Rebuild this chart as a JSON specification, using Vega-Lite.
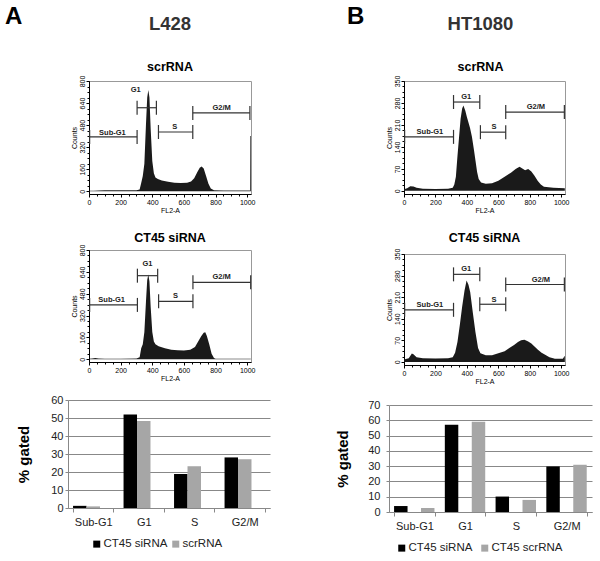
{
  "$schema": "https://vega.github.io/schema/vega-lite/v6.json",
  "padding": {"left": 5, "top": 4, "right": 5, "bottom": 5},
  "datasets": {
    "hist": [
      {"cell": "L428", "sample": "scrRNA", "fl": 0, "count": 3},
      {"cell": "L428", "sample": "scrRNA", "fl": 30, "count": 4},
      {"cell": "L428", "sample": "scrRNA", "fl": 60, "count": 6},
      {"cell": "L428", "sample": "scrRNA", "fl": 100, "count": 7},
      {"cell": "L428", "sample": "scrRNA", "fl": 150, "count": 7},
      {"cell": "L428", "sample": "scrRNA", "fl": 200, "count": 8},
      {"cell": "L428", "sample": "scrRNA", "fl": 250, "count": 8},
      {"cell": "L428", "sample": "scrRNA", "fl": 300, "count": 8},
      {"cell": "L428", "sample": "scrRNA", "fl": 320, "count": 12},
      {"cell": "L428", "sample": "scrRNA", "fl": 330, "count": 60},
      {"cell": "L428", "sample": "scrRNA", "fl": 340, "count": 110},
      {"cell": "L428", "sample": "scrRNA", "fl": 350, "count": 200},
      {"cell": "L428", "sample": "scrRNA", "fl": 360, "count": 480},
      {"cell": "L428", "sample": "scrRNA", "fl": 368, "count": 680},
      {"cell": "L428", "sample": "scrRNA", "fl": 375, "count": 735},
      {"cell": "L428", "sample": "scrRNA", "fl": 382, "count": 680},
      {"cell": "L428", "sample": "scrRNA", "fl": 390, "count": 450},
      {"cell": "L428", "sample": "scrRNA", "fl": 400, "count": 220},
      {"cell": "L428", "sample": "scrRNA", "fl": 410, "count": 130},
      {"cell": "L428", "sample": "scrRNA", "fl": 420, "count": 100},
      {"cell": "L428", "sample": "scrRNA", "fl": 435, "count": 88},
      {"cell": "L428", "sample": "scrRNA", "fl": 460, "count": 78},
      {"cell": "L428", "sample": "scrRNA", "fl": 500, "count": 68},
      {"cell": "L428", "sample": "scrRNA", "fl": 540, "count": 62},
      {"cell": "L428", "sample": "scrRNA", "fl": 580, "count": 60},
      {"cell": "L428", "sample": "scrRNA", "fl": 620, "count": 62},
      {"cell": "L428", "sample": "scrRNA", "fl": 645, "count": 70},
      {"cell": "L428", "sample": "scrRNA", "fl": 665, "count": 95},
      {"cell": "L428", "sample": "scrRNA", "fl": 685, "count": 140},
      {"cell": "L428", "sample": "scrRNA", "fl": 700, "count": 170},
      {"cell": "L428", "sample": "scrRNA", "fl": 712, "count": 180},
      {"cell": "L428", "sample": "scrRNA", "fl": 725, "count": 165},
      {"cell": "L428", "sample": "scrRNA", "fl": 740, "count": 110},
      {"cell": "L428", "sample": "scrRNA", "fl": 755, "count": 55},
      {"cell": "L428", "sample": "scrRNA", "fl": 770, "count": 20},
      {"cell": "L428", "sample": "scrRNA", "fl": 790, "count": 8},
      {"cell": "L428", "sample": "scrRNA", "fl": 850, "count": 5},
      {"cell": "L428", "sample": "scrRNA", "fl": 950, "count": 5},
      {"cell": "L428", "sample": "scrRNA", "fl": 1018, "count": 5},
      {"cell": "L428", "sample": "scrRNA", "fl": 1019, "count": 400},
      {"cell": "L428", "sample": "scrRNA", "fl": 1023, "count": 400},

      {"cell": "L428", "sample": "CT45 siRNA", "fl": 0, "count": 3},
      {"cell": "L428", "sample": "CT45 siRNA", "fl": 20, "count": 5},
      {"cell": "L428", "sample": "CT45 siRNA", "fl": 40, "count": 10},
      {"cell": "L428", "sample": "CT45 siRNA", "fl": 60, "count": 6},
      {"cell": "L428", "sample": "CT45 siRNA", "fl": 100, "count": 4},
      {"cell": "L428", "sample": "CT45 siRNA", "fl": 200, "count": 4},
      {"cell": "L428", "sample": "CT45 siRNA", "fl": 300, "count": 5},
      {"cell": "L428", "sample": "CT45 siRNA", "fl": 320, "count": 15},
      {"cell": "L428", "sample": "CT45 siRNA", "fl": 330, "count": 80},
      {"cell": "L428", "sample": "CT45 siRNA", "fl": 340, "count": 110},
      {"cell": "L428", "sample": "CT45 siRNA", "fl": 350, "count": 200},
      {"cell": "L428", "sample": "CT45 siRNA", "fl": 360, "count": 420},
      {"cell": "L428", "sample": "CT45 siRNA", "fl": 368, "count": 580},
      {"cell": "L428", "sample": "CT45 siRNA", "fl": 375, "count": 620},
      {"cell": "L428", "sample": "CT45 siRNA", "fl": 382, "count": 570},
      {"cell": "L428", "sample": "CT45 siRNA", "fl": 390, "count": 380},
      {"cell": "L428", "sample": "CT45 siRNA", "fl": 400, "count": 200},
      {"cell": "L428", "sample": "CT45 siRNA", "fl": 410, "count": 130},
      {"cell": "L428", "sample": "CT45 siRNA", "fl": 420, "count": 110},
      {"cell": "L428", "sample": "CT45 siRNA", "fl": 440, "count": 95},
      {"cell": "L428", "sample": "CT45 siRNA", "fl": 480, "count": 80},
      {"cell": "L428", "sample": "CT45 siRNA", "fl": 520, "count": 70},
      {"cell": "L428", "sample": "CT45 siRNA", "fl": 560, "count": 66},
      {"cell": "L428", "sample": "CT45 siRNA", "fl": 600, "count": 65},
      {"cell": "L428", "sample": "CT45 siRNA", "fl": 640, "count": 70},
      {"cell": "L428", "sample": "CT45 siRNA", "fl": 670, "count": 90},
      {"cell": "L428", "sample": "CT45 siRNA", "fl": 690, "count": 130},
      {"cell": "L428", "sample": "CT45 siRNA", "fl": 710, "count": 170},
      {"cell": "L428", "sample": "CT45 siRNA", "fl": 725, "count": 195},
      {"cell": "L428", "sample": "CT45 siRNA", "fl": 735, "count": 198},
      {"cell": "L428", "sample": "CT45 siRNA", "fl": 745, "count": 170},
      {"cell": "L428", "sample": "CT45 siRNA", "fl": 760, "count": 110},
      {"cell": "L428", "sample": "CT45 siRNA", "fl": 775, "count": 40},
      {"cell": "L428", "sample": "CT45 siRNA", "fl": 790, "count": 10},
      {"cell": "L428", "sample": "CT45 siRNA", "fl": 800, "count": 4},
      {"cell": "L428", "sample": "CT45 siRNA", "fl": 1000, "count": 3},
      {"cell": "L428", "sample": "CT45 siRNA", "fl": 1023, "count": 3},

      {"cell": "HT1080", "sample": "scrRNA", "fl": 0, "count": 5},
      {"cell": "HT1080", "sample": "scrRNA", "fl": 20, "count": 8},
      {"cell": "HT1080", "sample": "scrRNA", "fl": 40, "count": 15},
      {"cell": "HT1080", "sample": "scrRNA", "fl": 60, "count": 14},
      {"cell": "HT1080", "sample": "scrRNA", "fl": 80, "count": 10},
      {"cell": "HT1080", "sample": "scrRNA", "fl": 120, "count": 7},
      {"cell": "HT1080", "sample": "scrRNA", "fl": 200, "count": 6},
      {"cell": "HT1080", "sample": "scrRNA", "fl": 280, "count": 7},
      {"cell": "HT1080", "sample": "scrRNA", "fl": 310, "count": 10},
      {"cell": "HT1080", "sample": "scrRNA", "fl": 320, "count": 20},
      {"cell": "HT1080", "sample": "scrRNA", "fl": 330, "count": 45},
      {"cell": "HT1080", "sample": "scrRNA", "fl": 340, "count": 110},
      {"cell": "HT1080", "sample": "scrRNA", "fl": 350, "count": 170},
      {"cell": "HT1080", "sample": "scrRNA", "fl": 360, "count": 230},
      {"cell": "HT1080", "sample": "scrRNA", "fl": 370, "count": 262},
      {"cell": "HT1080", "sample": "scrRNA", "fl": 378, "count": 272},
      {"cell": "HT1080", "sample": "scrRNA", "fl": 390, "count": 255},
      {"cell": "HT1080", "sample": "scrRNA", "fl": 400, "count": 235},
      {"cell": "HT1080", "sample": "scrRNA", "fl": 410, "count": 218},
      {"cell": "HT1080", "sample": "scrRNA", "fl": 420, "count": 200},
      {"cell": "HT1080", "sample": "scrRNA", "fl": 432, "count": 172},
      {"cell": "HT1080", "sample": "scrRNA", "fl": 445, "count": 130},
      {"cell": "HT1080", "sample": "scrRNA", "fl": 455, "count": 95},
      {"cell": "HT1080", "sample": "scrRNA", "fl": 465, "count": 60},
      {"cell": "HT1080", "sample": "scrRNA", "fl": 475, "count": 38},
      {"cell": "HT1080", "sample": "scrRNA", "fl": 490, "count": 27},
      {"cell": "HT1080", "sample": "scrRNA", "fl": 520, "count": 23},
      {"cell": "HT1080", "sample": "scrRNA", "fl": 560, "count": 24},
      {"cell": "HT1080", "sample": "scrRNA", "fl": 600, "count": 32},
      {"cell": "HT1080", "sample": "scrRNA", "fl": 640, "count": 45},
      {"cell": "HT1080", "sample": "scrRNA", "fl": 680, "count": 58},
      {"cell": "HT1080", "sample": "scrRNA", "fl": 710, "count": 70},
      {"cell": "HT1080", "sample": "scrRNA", "fl": 735, "count": 77},
      {"cell": "HT1080", "sample": "scrRNA", "fl": 750, "count": 72},
      {"cell": "HT1080", "sample": "scrRNA", "fl": 770, "count": 66},
      {"cell": "HT1080", "sample": "scrRNA", "fl": 790, "count": 70},
      {"cell": "HT1080", "sample": "scrRNA", "fl": 810, "count": 62},
      {"cell": "HT1080", "sample": "scrRNA", "fl": 830, "count": 48},
      {"cell": "HT1080", "sample": "scrRNA", "fl": 850, "count": 32},
      {"cell": "HT1080", "sample": "scrRNA", "fl": 870, "count": 20},
      {"cell": "HT1080", "sample": "scrRNA", "fl": 890, "count": 13},
      {"cell": "HT1080", "sample": "scrRNA", "fl": 950, "count": 10},
      {"cell": "HT1080", "sample": "scrRNA", "fl": 1023, "count": 8},

      {"cell": "HT1080", "sample": "CT45 siRNA", "fl": 0, "count": 8},
      {"cell": "HT1080", "sample": "CT45 siRNA", "fl": 30, "count": 12},
      {"cell": "HT1080", "sample": "CT45 siRNA", "fl": 50, "count": 27},
      {"cell": "HT1080", "sample": "CT45 siRNA", "fl": 60, "count": 25},
      {"cell": "HT1080", "sample": "CT45 siRNA", "fl": 80, "count": 15},
      {"cell": "HT1080", "sample": "CT45 siRNA", "fl": 120, "count": 12},
      {"cell": "HT1080", "sample": "CT45 siRNA", "fl": 200, "count": 11},
      {"cell": "HT1080", "sample": "CT45 siRNA", "fl": 280, "count": 12},
      {"cell": "HT1080", "sample": "CT45 siRNA", "fl": 310, "count": 15},
      {"cell": "HT1080", "sample": "CT45 siRNA", "fl": 325, "count": 30},
      {"cell": "HT1080", "sample": "CT45 siRNA", "fl": 340, "count": 65},
      {"cell": "HT1080", "sample": "CT45 siRNA", "fl": 355, "count": 120},
      {"cell": "HT1080", "sample": "CT45 siRNA", "fl": 370, "count": 180},
      {"cell": "HT1080", "sample": "CT45 siRNA", "fl": 385, "count": 232},
      {"cell": "HT1080", "sample": "CT45 siRNA", "fl": 398, "count": 264},
      {"cell": "HT1080", "sample": "CT45 siRNA", "fl": 410, "count": 250},
      {"cell": "HT1080", "sample": "CT45 siRNA", "fl": 421, "count": 227},
      {"cell": "HT1080", "sample": "CT45 siRNA", "fl": 437, "count": 163},
      {"cell": "HT1080", "sample": "CT45 siRNA", "fl": 454, "count": 98},
      {"cell": "HT1080", "sample": "CT45 siRNA", "fl": 471, "count": 45},
      {"cell": "HT1080", "sample": "CT45 siRNA", "fl": 486, "count": 28},
      {"cell": "HT1080", "sample": "CT45 siRNA", "fl": 520, "count": 22},
      {"cell": "HT1080", "sample": "CT45 siRNA", "fl": 560, "count": 22},
      {"cell": "HT1080", "sample": "CT45 siRNA", "fl": 600, "count": 28},
      {"cell": "HT1080", "sample": "CT45 siRNA", "fl": 640, "count": 35},
      {"cell": "HT1080", "sample": "CT45 siRNA", "fl": 670, "count": 45},
      {"cell": "HT1080", "sample": "CT45 siRNA", "fl": 700, "count": 55},
      {"cell": "HT1080", "sample": "CT45 siRNA", "fl": 725, "count": 65},
      {"cell": "HT1080", "sample": "CT45 siRNA", "fl": 745, "count": 70},
      {"cell": "HT1080", "sample": "CT45 siRNA", "fl": 766, "count": 72},
      {"cell": "HT1080", "sample": "CT45 siRNA", "fl": 790, "count": 66},
      {"cell": "HT1080", "sample": "CT45 siRNA", "fl": 810, "count": 60},
      {"cell": "HT1080", "sample": "CT45 siRNA", "fl": 830, "count": 50},
      {"cell": "HT1080", "sample": "CT45 siRNA", "fl": 850, "count": 40},
      {"cell": "HT1080", "sample": "CT45 siRNA", "fl": 875, "count": 30},
      {"cell": "HT1080", "sample": "CT45 siRNA", "fl": 895, "count": 24},
      {"cell": "HT1080", "sample": "CT45 siRNA", "fl": 925, "count": 15},
      {"cell": "HT1080", "sample": "CT45 siRNA", "fl": 960, "count": 10},
      {"cell": "HT1080", "sample": "CT45 siRNA", "fl": 1010, "count": 10},
      {"cell": "HT1080", "sample": "CT45 siRNA", "fl": 1023, "count": 20}
    ],
    "gates": [
      {"cell": "L428", "sample": "scrRNA", "gate": "Sub-G1", "start": 4, "end": 304, "level": 394, "lx": 148, "ly": 425},
      {"cell": "L428", "sample": "scrRNA", "gate": "G1", "start": 304, "end": 426, "level": 606, "lx": 295, "ly": 732},
      {"cell": "L428", "sample": "scrRNA", "gate": "S", "start": 439, "end": 656, "level": 430, "lx": 542, "ly": 465},
      {"cell": "L428", "sample": "scrRNA", "gate": "G2/M", "start": 656, "end": 1017, "level": 568, "lx": 838, "ly": 605},
      {"cell": "L428", "sample": "CT45 siRNA", "gate": "Sub-G1", "start": 4, "end": 306, "level": 398, "lx": 143, "ly": 432},
      {"cell": "L428", "sample": "CT45 siRNA", "gate": "G1", "start": 306, "end": 434, "level": 612, "lx": 370, "ly": 695},
      {"cell": "L428", "sample": "CT45 siRNA", "gate": "S", "start": 440, "end": 657, "level": 424, "lx": 547, "ly": 460},
      {"cell": "L428", "sample": "CT45 siRNA", "gate": "G2/M", "start": 657, "end": 1022, "level": 563, "lx": 838, "ly": 605},
      {"cell": "HT1080", "sample": "scrRNA", "gate": "Sub-G1", "start": 4, "end": 315, "level": 172, "lx": 165, "ly": 188},
      {"cell": "HT1080", "sample": "scrRNA", "gate": "G1", "start": 315, "end": 482, "level": 283, "lx": 396, "ly": 300},
      {"cell": "HT1080", "sample": "scrRNA", "gate": "S", "start": 486, "end": 647, "level": 187, "lx": 572, "ly": 202},
      {"cell": "HT1080", "sample": "scrRNA", "gate": "G2/M", "start": 647, "end": 1020, "level": 251, "lx": 839, "ly": 266},
      {"cell": "HT1080", "sample": "CT45 siRNA", "gate": "Sub-G1", "start": 4, "end": 315, "level": 169, "lx": 165, "ly": 186},
      {"cell": "HT1080", "sample": "CT45 siRNA", "gate": "G1", "start": 315, "end": 482, "level": 284, "lx": 396, "ly": 300},
      {"cell": "HT1080", "sample": "CT45 siRNA", "gate": "S", "start": 482, "end": 647, "level": 187, "lx": 572, "ly": 202},
      {"cell": "HT1080", "sample": "CT45 siRNA", "gate": "G2/M", "start": 647, "end": 1020, "level": 251, "lx": 871, "ly": 267}
    ],
    "bars": [
      {"cell": "L428", "phase": "Sub-G1", "group": "CT45 siRNA", "pct": 1.2},
      {"cell": "L428", "phase": "Sub-G1", "group": "scrRNA", "pct": 0.9},
      {"cell": "L428", "phase": "G1", "group": "CT45 siRNA", "pct": 52},
      {"cell": "L428", "phase": "G1", "group": "scrRNA", "pct": 48.3},
      {"cell": "L428", "phase": "S", "group": "CT45 siRNA", "pct": 18.9},
      {"cell": "L428", "phase": "S", "group": "scrRNA", "pct": 23.2},
      {"cell": "L428", "phase": "G2/M", "group": "CT45 siRNA", "pct": 28.1},
      {"cell": "L428", "phase": "G2/M", "group": "scrRNA", "pct": 27.1},
      {"cell": "HT1080", "phase": "Sub-G1", "group": "CT45 siRNA", "pct": 3.9},
      {"cell": "HT1080", "phase": "Sub-G1", "group": "CT45 scrRNA", "pct": 2.6},
      {"cell": "HT1080", "phase": "G1", "group": "CT45 siRNA", "pct": 57},
      {"cell": "HT1080", "phase": "G1", "group": "CT45 scrRNA", "pct": 59},
      {"cell": "HT1080", "phase": "S", "group": "CT45 siRNA", "pct": 10.1},
      {"cell": "HT1080", "phase": "S", "group": "CT45 scrRNA", "pct": 7.9},
      {"cell": "HT1080", "phase": "G2/M", "group": "CT45 siRNA", "pct": 29.8},
      {"cell": "HT1080", "phase": "G2/M", "group": "CT45 scrRNA", "pct": 30.9}
    ]
  },
  "hconcat": [
    {
      "title": {"text": "A", "anchor": "start", "frame": "group", "dx": -63, "offset": -38, "fontSize": 24, "fontWeight": "bold", "color": "#000", "baseline": "bottom"},
      "spacing": 12,
      "resolve": {"scale": {"color": "independent"}, "legend": {"color": "independent"}},
      "vconcat": [
        {
          "spacing": 0,
          "hconcat": [
            {"width": 1, "height": 10, "data": {"values": []}, "mark": {"type": "point", "opacity": 0}, "view": {"stroke": null}},
            {
              "spacing": 17,
              "vconcat": [
                {
                  "width": 162, "height": 113,
                  "title": {"text": "L428", "subtitle": "scrRNA", "frame": "group", "offset": 2, "fontSize": 18.5, "fontWeight": "bold", "color": "#333", "subtitleFontSize": 12.5, "subtitleFontWeight": "bold", "subtitleColor": "#000", "subtitlePadding": 27},
                  "resolve": {"axis": {"x": "independent", "y": "independent"}},
                  "layer": [
                    {
                      "data": {"name": "hist"},
                      "transform": [{"filter": "datum.cell === 'L428' && datum.sample === 'scrRNA'"}],
                      "mark": {"type": "area", "color": "#1a1a1a"},
                      "encoding": {
                        "x": {"field": "fl", "type": "quantitative", "title": "FL2-A", "scale": {"domain": [0, 1024], "nice": false, "zero": false},
                          "axis": {"orient": "bottom", "values": [0, 200, 400, 600, 800, 1000], "format": "d", "labelOverlap": false, "labelFlush": false, "labelFontSize": 7, "titleFontSize": 7, "titleFontWeight": "normal", "titlePadding": 1, "tickSize": 3, "labelPadding": 1, "grid": false}},
                        "y": {"field": "count", "type": "quantitative", "title": "Counts", "scale": {"domain": [-20, 800], "nice": false},
                          "axis": {"orient": "left", "values": [0, 160, 320, 480, 640, 800], "labelOverlap": false, "labelFlush": false, "labelAngle": 270, "labelAlign": "center", "labelBaseline": "bottom", "labelFontSize": 7, "titleFontSize": 7, "titleFontWeight": "normal", "titlePadding": 1, "tickSize": 3, "labelPadding": 1, "grid": false}}
                      }
                    },
                    {
                      "data": {"name": "gates"},
                      "transform": [{"filter": "datum.cell === 'L428' && datum.sample === 'scrRNA'"}],
                      "mark": {"type": "rule", "color": "#333", "strokeWidth": 1.2},
                      "encoding": {
                        "x": {"field": "start", "type": "quantitative", "axis": {"orient": "bottom", "values": [0, 50, 100, 150, 200, 250, 300, 350, 400, 450, 500, 550, 600, 650, 700, 750, 800, 850, 900, 950, 1000], "labels": false, "domain": false, "title": null, "tickSize": 2, "grid": false}},
                        "x2": {"field": "end"},
                        "y": {"field": "level", "type": "quantitative", "axis": {"orient": "left", "values": [0, 40, 80, 120, 160, 200, 240, 280, 320, 360, 400, 440, 480, 520, 560, 600, 640, 680, 720, 760, 800], "labels": false, "domain": false, "title": null, "tickSize": 2, "grid": false}}
                      }
                    },
                    {
                      "data": {"name": "gates"},
                      "transform": [{"filter": "datum.cell === 'L428' && datum.sample === 'scrRNA'"}],
                      "mark": {"type": "tick", "orient": "vertical", "size": 14, "thickness": 1.2, "color": "#333", "opacity": 1},
                      "encoding": {
                        "x": {"field": "start", "type": "quantitative", "axis": null},
                        "y": {"field": "level", "type": "quantitative", "axis": null}
                      }
                    },
                    {
                      "data": {"name": "gates"},
                      "transform": [{"filter": "datum.cell === 'L428' && datum.sample === 'scrRNA'"}],
                      "mark": {"type": "tick", "orient": "vertical", "size": 14, "thickness": 1.2, "color": "#333", "opacity": 1},
                      "encoding": {
                        "x": {"field": "end", "type": "quantitative", "axis": null},
                        "y": {"field": "level", "type": "quantitative", "axis": null}
                      }
                    },
                    {
                      "data": {"name": "gates"},
                      "transform": [{"filter": "datum.cell === 'L428' && datum.sample === 'scrRNA'"}],
                      "mark": {"type": "text", "fontSize": 7.5, "fontWeight": "bold", "color": "#222"},
                      "encoding": {
                        "x": {"field": "lx", "type": "quantitative", "axis": null},
                        "y": {"field": "ly", "type": "quantitative", "axis": null},
                        "text": {"field": "gate"}
                      }
                    }
                  ]
                },
                {
                  "width": 162, "height": 112,
                  "title": {"text": "CT45 siRNA", "frame": "group", "offset": 0, "fontSize": 12.5, "fontWeight": "bold", "color": "#000"},
                  "resolve": {"axis": {"x": "independent", "y": "independent"}},
                  "layer": [
                    {
                      "data": {"name": "hist"},
                      "transform": [{"filter": "datum.cell === 'L428' && datum.sample === 'CT45 siRNA'"}],
                      "mark": {"type": "area", "color": "#1a1a1a"},
                      "encoding": {
                        "x": {"field": "fl", "type": "quantitative", "title": "FL2-A", "scale": {"domain": [0, 1024], "nice": false, "zero": false},
                          "axis": {"orient": "bottom", "values": [0, 200, 400, 600, 800, 1000], "format": "d", "labelOverlap": false, "labelFlush": false, "labelFontSize": 7, "titleFontSize": 7, "titleFontWeight": "normal", "titlePadding": 1, "tickSize": 3, "labelPadding": 1, "grid": false}},
                        "y": {"field": "count", "type": "quantitative", "title": "Counts", "scale": {"domain": [-20, 800], "nice": false},
                          "axis": {"orient": "left", "values": [0, 160, 320, 480, 640, 800], "labelOverlap": false, "labelFlush": false, "labelAngle": 270, "labelAlign": "center", "labelBaseline": "bottom", "labelFontSize": 7, "titleFontSize": 7, "titleFontWeight": "normal", "titlePadding": 1, "tickSize": 3, "labelPadding": 1, "grid": false}}
                      }
                    },
                    {
                      "data": {"name": "gates"},
                      "transform": [{"filter": "datum.cell === 'L428' && datum.sample === 'CT45 siRNA'"}],
                      "mark": {"type": "rule", "color": "#333", "strokeWidth": 1.2},
                      "encoding": {
                        "x": {"field": "start", "type": "quantitative", "axis": {"orient": "bottom", "values": [0, 50, 100, 150, 200, 250, 300, 350, 400, 450, 500, 550, 600, 650, 700, 750, 800, 850, 900, 950, 1000], "labels": false, "domain": false, "title": null, "tickSize": 2, "grid": false}},
                        "x2": {"field": "end"},
                        "y": {"field": "level", "type": "quantitative", "axis": {"orient": "left", "values": [0, 40, 80, 120, 160, 200, 240, 280, 320, 360, 400, 440, 480, 520, 560, 600, 640, 680, 720, 760, 800], "labels": false, "domain": false, "title": null, "tickSize": 2, "grid": false}}
                      }
                    },
                    {
                      "data": {"name": "gates"},
                      "transform": [{"filter": "datum.cell === 'L428' && datum.sample === 'CT45 siRNA'"}],
                      "mark": {"type": "tick", "orient": "vertical", "size": 14, "thickness": 1.2, "color": "#333", "opacity": 1},
                      "encoding": {
                        "x": {"field": "start", "type": "quantitative", "axis": null},
                        "y": {"field": "level", "type": "quantitative", "axis": null}
                      }
                    },
                    {
                      "data": {"name": "gates"},
                      "transform": [{"filter": "datum.cell === 'L428' && datum.sample === 'CT45 siRNA'"}],
                      "mark": {"type": "tick", "orient": "vertical", "size": 14, "thickness": 1.2, "color": "#333", "opacity": 1},
                      "encoding": {
                        "x": {"field": "end", "type": "quantitative", "axis": null},
                        "y": {"field": "level", "type": "quantitative", "axis": null}
                      }
                    },
                    {
                      "data": {"name": "gates"},
                      "transform": [{"filter": "datum.cell === 'L428' && datum.sample === 'CT45 siRNA'"}],
                      "mark": {"type": "text", "fontSize": 7.5, "fontWeight": "bold", "color": "#222"},
                      "encoding": {
                        "x": {"field": "lx", "type": "quantitative", "axis": null},
                        "y": {"field": "ly", "type": "quantitative", "axis": null},
                        "text": {"field": "gate"}
                      }
                    }
                  ]
                }
              ]
            }
          ]
        },
        {
          "width": 202, "height": 108,
          "view": {"stroke": null},
          "data": {"name": "bars"},
          "transform": [{"filter": "datum.cell === 'L428'"}],
          "mark": {"type": "bar"},
          "encoding": {
            "x": {"field": "phase", "type": "nominal", "sort": ["Sub-G1", "G1", "S", "G2/M"], "title": null,
              "scale": {"paddingInner": 0.2, "paddingOuter": 0.1},
              "axis": {"labelAngle": 0, "labelFontSize": 11, "labelColor": "#222", "domainColor": "#888", "tickColor": "#888", "tickBand": "extent", "tickSize": 4, "labelPadding": 4}},
            "xOffset": {"field": "group", "type": "nominal", "sort": ["CT45 siRNA", "scrRNA"]},
            "y": {"field": "pct", "type": "quantitative", "title": "% gated", "scale": {"domain": [0, 60], "nice": false},
              "axis": {"values": [0, 10, 20, 30, 40, 50, 60], "grid": true, "gridColor": "#888", "labelFontSize": 11, "labelColor": "#222", "titleFontSize": 15, "titleFontWeight": "bold", "titleColor": "#000", "domainColor": "#888", "tickColor": "#888", "tickSize": 3, "labelPadding": 2, "titlePadding": 19}},
            "color": {"field": "group", "type": "nominal", "scale": {"domain": ["CT45 siRNA", "scrRNA"], "range": ["#000000", "#a6a6a6"]},
              "legend": {"title": null, "orient": "none", "legendX": 23, "legendY": 138, "padding": 0, "direction": "horizontal", "symbolType": "square", "symbolSize": 49, "symbolStrokeWidth": 0, "labelOffset": 1, "labelFontSize": 11.5, "labelColor": "#222", "columnPadding": 2}}
          }
        }
      ]
    },
    {
      "title": {"text": "B", "anchor": "start", "frame": "group", "dx": -42, "offset": -38, "fontSize": 24, "fontWeight": "bold", "color": "#000", "baseline": "bottom"},
      "spacing": 14,
      "resolve": {"scale": {"color": "independent"}, "legend": {"color": "independent"}},
      "vconcat": [
        {
          "spacing": -6,
          "hconcat": [
            {"width": 1, "height": 10, "data": {"values": []}, "mark": {"type": "point", "opacity": 0}, "view": {"stroke": null}},
            {
              "spacing": 17,
              "vconcat": [
                {
                  "width": 161, "height": 113,
                  "title": {"text": "HT1080", "subtitle": "scrRNA", "frame": "group", "dx": -4, "offset": 2, "fontSize": 18.5, "fontWeight": "bold", "color": "#333", "subtitleFontSize": 12.5, "subtitleFontWeight": "bold", "subtitleColor": "#000", "subtitlePadding": 27},
                  "resolve": {"axis": {"x": "independent", "y": "independent"}},
                  "layer": [
                    {
                      "data": {"name": "hist"},
                      "transform": [{"filter": "datum.cell === 'HT1080' && datum.sample === 'scrRNA'"}],
                      "mark": {"type": "area", "color": "#1a1a1a"},
                      "encoding": {
                        "x": {"field": "fl", "type": "quantitative", "title": "FL2-A", "scale": {"domain": [0, 1024], "nice": false, "zero": false},
                          "axis": {"orient": "bottom", "values": [0, 200, 400, 600, 800, 1000], "format": "d", "labelOverlap": false, "labelFlush": false, "labelFontSize": 7, "titleFontSize": 7, "titleFontWeight": "normal", "titlePadding": 1, "tickSize": 3, "labelPadding": 1, "grid": false}},
                        "y": {"field": "count", "type": "quantitative", "title": "Counts", "scale": {"domain": [-10, 350], "nice": false},
                          "axis": {"orient": "left", "values": [0, 70, 140, 210, 280, 350], "labelOverlap": false, "labelFlush": false, "labelAngle": 270, "labelAlign": "center", "labelBaseline": "bottom", "labelFontSize": 7, "titleFontSize": 7, "titleFontWeight": "normal", "titlePadding": 1, "tickSize": 3, "labelPadding": 1, "grid": false}}
                      }
                    },
                    {
                      "data": {"name": "gates"},
                      "transform": [{"filter": "datum.cell === 'HT1080' && datum.sample === 'scrRNA'"}],
                      "mark": {"type": "rule", "color": "#333", "strokeWidth": 1.2},
                      "encoding": {
                        "x": {"field": "start", "type": "quantitative", "axis": {"orient": "bottom", "values": [0, 50, 100, 150, 200, 250, 300, 350, 400, 450, 500, 550, 600, 650, 700, 750, 800, 850, 900, 950, 1000], "labels": false, "domain": false, "title": null, "tickSize": 2, "grid": false}},
                        "x2": {"field": "end"},
                        "y": {"field": "level", "type": "quantitative", "axis": {"orient": "left", "values": [0, 17.5, 35, 52.5, 70, 87.5, 105, 122.5, 140, 157.5, 175, 192.5, 210, 227.5, 245, 262.5, 280, 297.5, 315, 332.5, 350], "labels": false, "domain": false, "title": null, "tickSize": 2, "grid": false}}
                      }
                    },
                    {
                      "data": {"name": "gates"},
                      "transform": [{"filter": "datum.cell === 'HT1080' && datum.sample === 'scrRNA'"}],
                      "mark": {"type": "tick", "orient": "vertical", "size": 14, "thickness": 1.2, "color": "#333", "opacity": 1},
                      "encoding": {
                        "x": {"field": "start", "type": "quantitative", "axis": null},
                        "y": {"field": "level", "type": "quantitative", "axis": null}
                      }
                    },
                    {
                      "data": {"name": "gates"},
                      "transform": [{"filter": "datum.cell === 'HT1080' && datum.sample === 'scrRNA'"}],
                      "mark": {"type": "tick", "orient": "vertical", "size": 14, "thickness": 1.2, "color": "#333", "opacity": 1},
                      "encoding": {
                        "x": {"field": "end", "type": "quantitative", "axis": null},
                        "y": {"field": "level", "type": "quantitative", "axis": null}
                      }
                    },
                    {
                      "data": {"name": "gates"},
                      "transform": [{"filter": "datum.cell === 'HT1080' && datum.sample === 'scrRNA'"}],
                      "mark": {"type": "text", "fontSize": 7.5, "fontWeight": "bold", "color": "#222"},
                      "encoding": {
                        "x": {"field": "lx", "type": "quantitative", "axis": null},
                        "y": {"field": "ly", "type": "quantitative", "axis": null},
                        "text": {"field": "gate"}
                      }
                    }
                  ]
                },
                {
                  "width": 161, "height": 111,
                  "title": {"text": "CT45 siRNA", "frame": "group", "offset": 4, "fontSize": 12.5, "fontWeight": "bold", "color": "#000"},
                  "resolve": {"axis": {"x": "independent", "y": "independent"}},
                  "layer": [
                    {
                      "data": {"name": "hist"},
                      "transform": [{"filter": "datum.cell === 'HT1080' && datum.sample === 'CT45 siRNA'"}],
                      "mark": {"type": "area", "color": "#1a1a1a"},
                      "encoding": {
                        "x": {"field": "fl", "type": "quantitative", "title": "FL2-A", "scale": {"domain": [0, 1024], "nice": false, "zero": false},
                          "axis": {"orient": "bottom", "values": [0, 200, 400, 600, 800, 1000], "format": "d", "labelOverlap": false, "labelFlush": false, "labelFontSize": 7, "titleFontSize": 7, "titleFontWeight": "normal", "titlePadding": 1, "tickSize": 3, "labelPadding": 1, "grid": false}},
                        "y": {"field": "count", "type": "quantitative", "title": "Counts", "scale": {"domain": [-10, 350], "nice": false},
                          "axis": {"orient": "left", "values": [0, 70, 140, 210, 280, 350], "labelOverlap": false, "labelFlush": false, "labelAngle": 270, "labelAlign": "center", "labelBaseline": "bottom", "labelFontSize": 7, "titleFontSize": 7, "titleFontWeight": "normal", "titlePadding": 1, "tickSize": 3, "labelPadding": 1, "grid": false}}
                      }
                    },
                    {
                      "data": {"name": "gates"},
                      "transform": [{"filter": "datum.cell === 'HT1080' && datum.sample === 'CT45 siRNA'"}],
                      "mark": {"type": "rule", "color": "#333", "strokeWidth": 1.2},
                      "encoding": {
                        "x": {"field": "start", "type": "quantitative", "axis": {"orient": "bottom", "values": [0, 50, 100, 150, 200, 250, 300, 350, 400, 450, 500, 550, 600, 650, 700, 750, 800, 850, 900, 950, 1000], "labels": false, "domain": false, "title": null, "tickSize": 2, "grid": false}},
                        "x2": {"field": "end"},
                        "y": {"field": "level", "type": "quantitative", "axis": {"orient": "left", "values": [0, 17.5, 35, 52.5, 70, 87.5, 105, 122.5, 140, 157.5, 175, 192.5, 210, 227.5, 245, 262.5, 280, 297.5, 315, 332.5, 350], "labels": false, "domain": false, "title": null, "tickSize": 2, "grid": false}}
                      }
                    },
                    {
                      "data": {"name": "gates"},
                      "transform": [{"filter": "datum.cell === 'HT1080' && datum.sample === 'CT45 siRNA'"}],
                      "mark": {"type": "tick", "orient": "vertical", "size": 14, "thickness": 1.2, "color": "#333", "opacity": 1},
                      "encoding": {
                        "x": {"field": "start", "type": "quantitative", "axis": null},
                        "y": {"field": "level", "type": "quantitative", "axis": null}
                      }
                    },
                    {
                      "data": {"name": "gates"},
                      "transform": [{"filter": "datum.cell === 'HT1080' && datum.sample === 'CT45 siRNA'"}],
                      "mark": {"type": "tick", "orient": "vertical", "size": 14, "thickness": 1.2, "color": "#333", "opacity": 1},
                      "encoding": {
                        "x": {"field": "end", "type": "quantitative", "axis": null},
                        "y": {"field": "level", "type": "quantitative", "axis": null}
                      }
                    },
                    {
                      "data": {"name": "gates"},
                      "transform": [{"filter": "datum.cell === 'HT1080' && datum.sample === 'CT45 siRNA'"}],
                      "mark": {"type": "text", "fontSize": 7.5, "fontWeight": "bold", "color": "#222"},
                      "encoding": {
                        "x": {"field": "lx", "type": "quantitative", "axis": null},
                        "y": {"field": "ly", "type": "quantitative", "axis": null},
                        "text": {"field": "gate"}
                      }
                    }
                  ]
                }
              ]
            }
          ]
        },
        {
          "width": 203, "height": 107,
          "view": {"stroke": null},
          "data": {"name": "bars"},
          "transform": [{"filter": "datum.cell === 'HT1080'"}],
          "mark": {"type": "bar"},
          "encoding": {
            "x": {"field": "phase", "type": "nominal", "sort": ["Sub-G1", "G1", "S", "G2/M"], "title": null,
              "scale": {"paddingInner": 0.2, "paddingOuter": 0.1},
              "axis": {"labelAngle": 0, "labelFontSize": 11, "labelColor": "#222", "domainColor": "#888", "tickColor": "#888", "tickBand": "extent", "tickSize": 4, "labelPadding": 4}},
            "xOffset": {"field": "group", "type": "nominal", "sort": ["CT45 siRNA", "CT45 scrRNA"]},
            "y": {"field": "pct", "type": "quantitative", "title": "% gated", "scale": {"domain": [0, 70], "nice": false},
              "axis": {"values": [0, 10, 20, 30, 40, 50, 60, 70], "grid": true, "gridColor": "#888", "labelFontSize": 11, "labelColor": "#222", "titleFontSize": 15, "titleFontWeight": "bold", "titleColor": "#000", "domainColor": "#888", "tickColor": "#888", "tickSize": 3, "labelPadding": 6, "titlePadding": 17}},
            "color": {"field": "group", "type": "nominal", "scale": {"domain": ["CT45 siRNA", "CT45 scrRNA"], "range": ["#000000", "#a6a6a6"]},
              "legend": {"title": null, "orient": "none", "legendX": 7, "legendY": 137, "padding": 0, "direction": "horizontal", "symbolType": "square", "symbolSize": 49, "symbolStrokeWidth": 0, "labelOffset": 1, "labelFontSize": 11.5, "labelColor": "#222", "columnPadding": 6}}
          }
        }
      ]
    }
  ],
  "spacing": 65,
  "resolve": {"scale": {"color": "independent"}, "legend": {"color": "independent"}},
  "config": {
    "font": "Liberation Sans",
    "view": {"stroke": "#999"},
    "axis": {"domainColor": "#000", "tickColor": "#000", "labelColor": "#000", "titleColor": "#000", "labelOverlap": false},
    "title": {"color": "#000"}
  }
}
